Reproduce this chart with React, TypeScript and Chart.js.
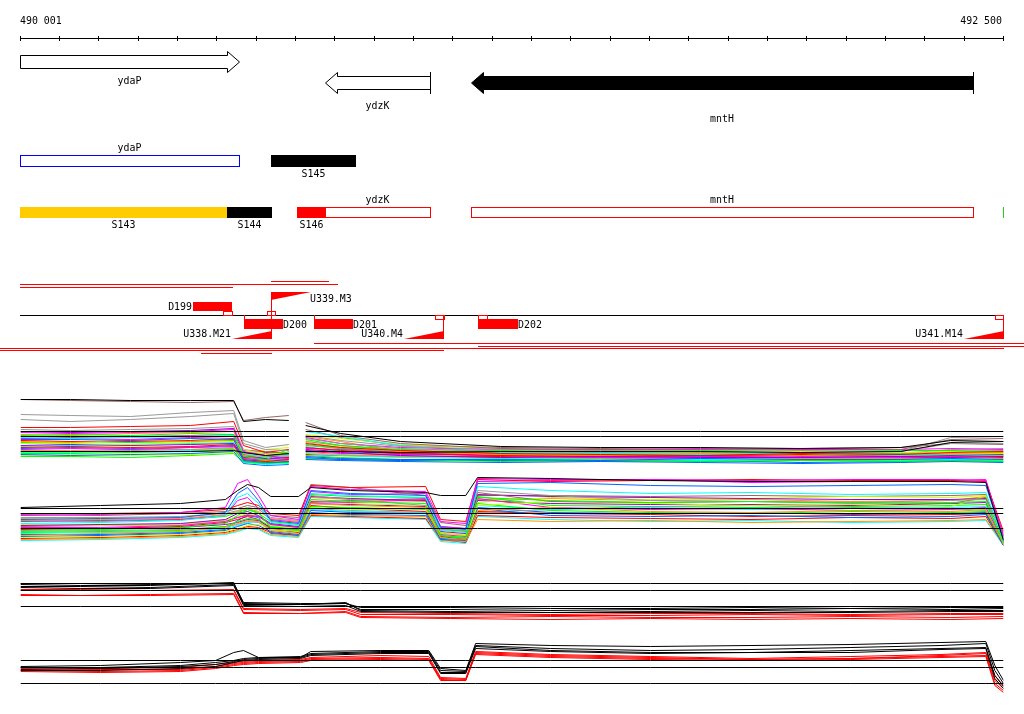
import React, { useEffect, useRef } from 'react';
import { Chart, registerables } from 'chart.js';

Chart.register(...registerables);

// ================= DATA =================
const REGION_START = 490001;
const REGION_END = 492500;
const TICK_STEP = 100;
const rulerLabels = ['490 001', '492 500'];

// genes
const geneNames = ['ydaP', 'ydzK', 'mntH'];
const geneStart = [490001, 490777, 491148];
const geneEnd = [490557, 491044, 492425];
const geneStrand = [1, -1, -1];

// annotation row 1
const row1Names = ['ydaP', 'S145'];
const row1Start = [490001, 490639];
const row1End = [490557, 490856];

// annotation row 2
const row2Names = ['S143', 'S144', 'S146', 'ydzK', 'mntH'];
const row2Start = [490001, 490527, 490706, 490706, 491148];
const row2End = [490527, 490642, 490779, 491044, 492425];
const row2Ticks = [492500];

// downshifts
const downNames = ['D199', 'D200', 'D201', 'D202'];
const downStart = [490441, 490571, 490749, 491166];
const downEnd = [490540, 490670, 490848, 491268];
const downAbove = [true, false, false, false];

// upshifts
const upNames = ['U339.M3', 'U338.M21', 'U340.M4', 'U341.M14'];
const upPos = [490639, 490639, 491077, 492500];
const upAbove = [true, false, false, false];
const UP_RAMP = 100;

// transcription units (red lines)
const tuStart = [490639, 490001, 490001, 490749, 491166, 489950, 489950, 490461];
const tuEnd = [490784, 490807, 490540, 492554, 492554, 492500, 491077, 490639];
const tuLane = [0, 1, 2, 3, 4, 5, 6, 7];

// ---- expression track 1 (gap between 490683 and 490726) ----
const t1X = [490001, 490128, 490281, 490433, 490543, 490568, 490624, 490683, 490703, 490726, 490815, 490967, 491222, 491476, 491730, 491985, 492239, 492366, 492500];
const t1Ref = [11.4, 10.9];
const t1Series = [
  [14.6, 14.6, 14.5, 14.5, 14.5, 12.4, 12.6, 12.5, null, 12.0, 11.2, 10.4, 9.9, 9.8, 9.8, 9.7, 9.8, 10.5, 10.4],
  [9.4, 9.4, 9.4, 9.4, 9.5, 9.3, 9.0, 9.2, null, 9.4, 9.4, 9.3, 9.4, 9.4, 9.4, 9.3, 9.4, 10.3, 10.4],
  [14.6, 14.5, 14.4, 14.3, 14.4, 12.5, 12.8, 13.0, null, 12.3, 11.0, 10.2, 9.7, 9.6, 9.6, 9.7, 9.6, 10.6, 10.7],
  [13.1, 13.0, 12.9, 13.3, 13.5, 10.5, 9.8, 10.1, null, 11.0, 10.5, 9.9, 9.6, 9.5, 9.6, 9.5, 9.4, 10.8, 10.9],
  [12.6, 12.4, 12.6, 12.9, 13.2, 10.2, 9.6, 9.5, null, 10.7, 10.2, 9.7, 9.4, 9.3, 9.4, 9.3, 9.4, 10.2, 10.2],
  [11.8, 11.8, 11.9, 12.0, 12.4, 10.0, 9.3, 9.6, null, 10.2, 9.8, 9.5, 9.2, 9.1, 9.0, 9.2, 9.1, 9.3, 9.4],
  [11.3, 11.2, 11.3, 11.4, 11.6, 9.4, 9.0, 8.7, null, 10.8, 10.2, 9.8, 9.6, 9.6, 9.7, 9.6, 9.6, 9.7, 9.6],
  [11.0, 11.1, 11.0, 11.2, 11.1, 8.9, 8.6, 9.4, null, 10.6, 10.0, 9.6, 9.5, 9.4, 9.5, 9.6, 9.5, 9.5, 9.4],
  [10.8, 10.7, 10.8, 10.9, 11.0, 9.2, 8.8, 9.0, null, 11.4, 10.9, 10.0, 9.3, 9.2, 9.1, 9.2, 9.0, 9.1, 9.0],
  [10.6, 10.6, 10.5, 10.7, 10.6, 8.5, 8.3, 8.4, null, 8.9, 8.7, 8.6, 8.6, 8.5, 8.7, 8.6, 8.6, 8.7, 8.6],
  [10.4, 10.3, 10.5, 10.4, 10.6, 9.0, 8.9, 8.9, null, 10.9, 10.4, 9.4, 9.1, 9.0, 9.2, 9.0, 9.1, 9.2, 9.3],
  [10.2, 10.2, 10.1, 10.3, 10.4, 9.6, 9.1, 9.3, null, 11.1, 10.7, 10.1, 9.7, 9.5, 9.5, 9.4, 9.3, 9.4, 9.3],
  [10.0, 10.1, 10.0, 10.1, 10.2, 8.8, 8.7, 8.8, null, 9.5, 9.3, 9.0, 8.8, 8.9, 8.8, 8.8, 8.9, 8.8, 8.9],
  [9.8, 9.9, 9.8, 9.9, 10.1, 8.6, 8.4, 8.6, null, 9.8, 9.5, 9.2, 9.0, 8.9, 9.0, 9.1, 8.9, 9.0, 9.1],
  [9.6, 9.7, 9.6, 9.8, 9.9, 9.1, 8.6, 8.9, null, 9.7, 9.6, 9.3, 9.0, 8.8, 8.7, 8.9, 8.8, 8.9, 9.0],
  [9.4, 9.4, 9.5, 9.6, 9.8, 9.3, 9.2, 9.1, null, 10.4, 10.0, 9.5, 9.3, 9.2, 9.3, 9.2, 9.2, 9.4, 9.5],
  [9.2, 9.2, 9.3, 9.4, 9.6, 8.4, 8.2, 8.3, null, 9.0, 8.8, 8.6, 8.4, 8.5, 8.4, 8.5, 8.4, 8.5, 8.4],
  [9.9, 10.0, 10.1, 10.2, 10.3, 8.3, 8.1, 8.2, null, 9.2, 9.0, 8.8, 8.7, 8.6, 8.5, 8.6, 8.5, 8.6, 8.5],
  [9.1, 9.0, 9.1, 9.2, 9.4, 8.2, 8.0, 8.1, null, 8.6, 8.5, 8.4, 8.3, 8.4, 8.3, 8.2, 8.3, 8.4, 8.3],
  [10.9, 10.8, 10.9, 11.0, 11.1, 9.5, 9.4, 9.2, null, 11.6, 10.8, 10.0, 9.8, 9.7, 9.6, 9.7, 9.8, 10.2, 10.1],
  [9.5, 9.5, 9.6, 9.6, 9.7, 8.5, 8.5, 8.5, null, 9.3, 9.1, 8.9, 8.8, 8.7, 8.8, 8.7, 8.7, 8.8, 8.7],
  [9.0, 9.1, 9.0, 9.1, 9.3, 9.0, 9.6, 9.8, null, 10.5, 9.9, 9.5, 9.4, 9.3, 9.2, 9.3, 9.2, 9.2, 9.2],
  [10.7, 10.7, 10.6, 10.8, 10.9, 8.7, 8.5, 8.6, null, 9.4, 9.2, 9.1, 9.0, 8.9, 8.9, 9.0, 9.0, 9.1, 9.0],
  [10.5, 10.4, 10.4, 10.5, 10.7, 9.0, 8.7, 8.8, null, 9.1, 9.0, 8.9, 8.9, 8.8, 8.9, 8.8, 8.7, 8.9, 8.8],
  [10.3, 10.4, 10.3, 10.4, 10.5, 8.9, 8.8, 9.6, null, 10.1, 9.7, 9.3, 9.1, 9.0, 9.1, 9.2, 9.1, 9.0, 9.1],
  [9.7, 9.8, 9.7, 9.8, 10.0, 8.4, 8.2, 8.4, null, 8.8, 8.6, 8.5, 8.5, 8.4, 8.5, 8.3, 8.4, 8.5, 8.4],
  [9.3, 9.3, 9.4, 9.5, 9.6, 8.7, 8.6, 8.7, null, 9.9, 9.4, 9.0, 8.8, 8.7, 8.6, 8.7, 8.7, 8.7, 8.6],
  [11.1, 11.0, 11.2, 11.3, 11.4, 9.1, 8.9, 9.0, null, 10.3, 9.8, 9.4, 9.2, 9.1, 9.0, 9.1, 9.0, 9.1, 9.2],
  [11.4, 11.3, 11.4, 11.5, 11.7, 9.3, 9.0, 9.1, null, 9.6, 9.4, 9.2, 9.0, 9.0, 8.9, 9.0, 8.9, 9.0, 8.9],
  [11.6, 11.5, 11.6, 11.7, 11.9, 9.6, 9.3, 9.3, null, 10.0, 9.7, 9.4, 9.3, 9.3, 9.2, 9.3, 9.2, 9.6, 9.7],
  [8.9, 8.9, 8.8, 9.0, 9.2, 8.3, 8.4, 8.3, null, 8.7, 8.6, 8.5, 8.6, 8.6, 8.4, 8.5, 8.5, 8.6, 8.5],
];

// ---- expression track 2 ----
const t2X = [490001, 490204, 490408, 490522, 490553, 490578, 490606, 490637, 490708, 490739, 490840, 491031, 491069, 491133, 491163, 491349, 491603, 491858, 492112, 492366, 492455, 492500];
const t2Ref = [11.7, 11.2, 9.7];
const t2Series = [
  [11.8, 12.0, 12.2, 12.6, 13.5, 14.1, 13.8, 12.9, 12.9, 13.8, 13.5, 13.3, 13.0, 13.0, 14.8, 14.7, 14.5, 14.4, 14.4, 14.4, 14.3, 8.5],
  [11.0, 11.1, 11.3, 11.8, 14.2, 14.6, 13.0, 11.0, 10.6, 13.9, 13.6, 13.4, 10.4, 10.2, 14.7, 14.6, 14.6, 14.5, 14.6, 14.6, 14.5, 9.0],
  [10.6, 10.7, 10.8, 11.3, 13.2, 13.8, 12.5, 10.5, 10.2, 13.5, 13.2, 13.0, 9.8, 9.6, 14.2, 14.3, 14.0, 13.9, 14.0, 14.1, 14.0, 8.6],
  [10.2, 10.3, 10.5, 11.0, 12.8, 13.2, 12.2, 10.3, 10.0, 13.2, 13.0, 12.8, 9.5, 9.3, 13.9, 13.5, 13.2, 13.3, 13.1, 13.2, 13.3, 8.4],
  [11.2, 11.2, 11.3, 11.6, 12.0, 12.3, 12.0, 11.2, 11.0, 14.0, 13.8, 13.9, 10.6, 10.4, 14.6, 14.4, 14.5, 14.6, 14.5, 14.5, 14.4, 9.4],
  [9.5, 9.6, 9.8, 10.2, 11.0, 11.6, 11.3, 9.8, 9.5, 12.6, 12.4, 12.2, 9.0, 8.8, 12.8, 12.5, 12.3, 12.4, 12.2, 12.3, 12.4, 8.3],
  [9.0, 9.2, 9.4, 9.8, 10.2, 10.5, 10.4, 9.5, 9.2, 12.2, 12.0, 11.8, 8.8, 8.6, 11.5, 11.8, 11.4, 11.3, 11.5, 11.4, 11.6, 8.2],
  [10.8, 10.8, 10.9, 11.2, 11.5, 11.8, 11.6, 10.8, 10.5, 13.0, 12.6, 12.0, 9.6, 9.5, 13.5, 13.0, 12.5, 12.4, 12.3, 12.5, 12.6, 8.8],
  [11.1, 11.0, 11.2, 11.4, 11.7, 12.0, 11.8, 11.0, 10.8, 14.1, 13.8, 13.0, 10.3, 10.0, 13.3, 12.4, 12.3, 12.4, 12.3, 12.2, 12.8, 9.2],
  [8.8, 8.9, 9.1, 9.4, 9.7, 10.0, 10.1, 9.6, 9.4, 11.8, 11.6, 11.7, 9.2, 9.0, 12.0, 12.4, 12.2, 12.0, 12.1, 11.9, 12.9, 8.1],
  [10.0, 10.1, 10.2, 10.6, 11.2, 11.4, 11.0, 10.2, 9.9, 12.9, 12.7, 12.5, 9.4, 9.2, 13.1, 12.9, 12.8, 12.7, 12.6, 12.6, 12.7, 8.5],
  [9.8, 9.8, 10.0, 10.4, 10.8, 11.0, 10.9, 10.1, 9.8, 12.4, 12.3, 12.6, 9.1, 8.9, 12.7, 11.8, 11.6, 11.7, 11.5, 11.6, 11.8, 8.4],
  [9.3, 9.4, 9.5, 9.9, 10.4, 10.7, 10.6, 9.9, 9.6, 11.9, 11.8, 11.6, 9.0, 8.7, 12.2, 11.5, 11.3, 11.2, 11.4, 11.3, 11.4, 8.2],
  [8.9, 9.0, 9.2, 9.5, 9.9, 10.2, 10.0, 9.4, 9.1, 11.5, 11.3, 11.2, 8.6, 8.5, 11.7, 11.0, 10.9, 11.0, 10.8, 10.9, 11.1, 8.0],
  [9.6, 9.7, 9.9, 10.3, 10.6, 10.9, 10.6, 9.7, 9.3, 12.0, 11.7, 11.4, 8.9, 8.6, 11.4, 11.2, 11.1, 10.9, 11.0, 11.1, 11.2, 8.3],
  [9.2, 9.3, 9.4, 9.7, 10.0, 10.3, 10.4, 9.6, 9.3, 11.6, 11.4, 11.3, 8.8, 8.7, 12.0, 11.6, 11.8, 11.6, 11.7, 11.8, 11.9, 8.4],
  [8.6, 8.7, 8.9, 9.2, 9.5, 9.8, 9.7, 9.1, 8.9, 11.1, 11.0, 10.9, 8.5, 8.4, 10.6, 10.4, 10.5, 10.3, 10.4, 10.5, 10.6, 8.1],
  [10.4, 10.5, 10.6, 11.0, 12.5, 12.8, 11.7, 10.6, 10.3, 13.4, 13.1, 13.2, 9.9, 9.7, 14.4, 14.5, 14.6, 14.3, 14.4, 14.5, 14.6, 8.9],
  [9.4, 9.5, 9.6, 9.9, 10.1, 10.4, 10.3, 9.7, 9.4, 11.7, 11.5, 11.3, 8.9, 8.8, 11.3, 11.6, 11.9, 12.0, 11.8, 11.7, 11.5, 8.3],
  [10.5, 10.4, 10.6, 10.9, 11.3, 11.6, 11.2, 10.4, 10.1, 13.1, 12.9, 12.8, 9.7, 9.4, 12.9, 12.0, 11.9, 11.8, 11.9, 12.0, 12.1, 8.6],
  [9.1, 9.1, 9.3, 9.6, 10.5, 11.0, 10.8, 9.2, 9.0, 11.3, 11.1, 11.0, 8.7, 8.6, 11.8, 11.3, 11.2, 11.3, 11.1, 11.2, 11.3, 8.2],
  [8.7, 8.8, 9.0, 9.3, 9.6, 9.9, 9.8, 9.3, 9.0, 11.0, 10.9, 10.7, 8.6, 8.3, 11.0, 10.8, 10.7, 10.6, 10.8, 10.7, 10.9, 8.0],
  [10.1, 10.0, 10.1, 10.5, 10.9, 11.2, 10.9, 10.0, 9.7, 12.5, 12.2, 12.0, 9.3, 9.1, 12.3, 12.8, 12.6, 12.7, 12.9, 12.8, 13.0, 8.7],
  [9.7, 9.7, 9.8, 10.1, 10.3, 10.6, 10.5, 9.8, 9.6, 12.2, 12.1, 11.9, 9.2, 9.0, 12.5, 12.2, 12.1, 12.1, 12.0, 12.2, 12.3, 8.5],
  [8.5, 8.6, 8.8, 9.1, 9.4, 9.7, 9.6, 9.0, 8.8, 10.9, 10.8, 10.6, 8.4, 8.2, 10.9, 10.6, 10.4, 10.5, 10.3, 10.4, 10.5, 8.0],
  [10.7, 10.6, 10.7, 11.1, 11.4, 11.7, 11.4, 10.7, 10.4, 12.8, 12.6, 12.4, 9.6, 9.4, 12.6, 12.7, 12.5, 12.6, 12.4, 12.5, 12.9, 8.8],
  [9.9, 10.0, 10.1, 10.5, 10.8, 11.1, 10.9, 10.1, 9.8, 12.3, 12.5, 12.7, 9.9, 9.7, 13.0, 13.0, 12.9, 13.0, 12.9, 13.0, 13.1, 8.6],
];

// ---- expression track 3 ----
const t3X = [490001, 490153, 490332, 490543, 490568, 490713, 490828, 490866, 491095, 491349, 491603, 491858, 492112, 492366, 492500];
const t3Ref = [12.2, 11.5, 9.9];
const t3Series = [
  [12.2, 12.2, 12.1, 12.2, 10.3, 10.2, 10.2, 9.8, 9.8, 9.7, 9.7, 9.8, 9.7, 9.8, 9.8],
  [12.1, 12.0, 12.0, 12.3, 10.2, 10.1, 10.2, 9.6, 9.6, 9.5, 9.6, 9.6, 9.7, 9.6, 9.7],
  [11.9, 11.9, 11.8, 12.1, 10.1, 10.1, 10.3, 9.5, 9.4, 9.3, 9.4, 9.5, 9.4, 9.5, 9.5],
  [11.8, 11.7, 11.7, 12.0, 10.0, 9.9, 10.0, 9.4, 9.3, 9.3, 9.3, 9.3, 9.3, 9.4, 9.4],
  [11.6, 11.6, 11.5, 11.6, 9.7, 9.6, 9.7, 9.3, 9.2, 9.1, 9.2, 9.2, 9.1, 9.2, 9.2],
  [11.5, 11.5, 11.5, 11.5, 9.6, 9.5, 9.6, 9.1, 9.1, 9.0, 9.0, 9.1, 9.0, 9.1, 9.1],
  [11.1, 11.0, 11.1, 11.2, 9.3, 9.2, 9.4, 8.9, 8.8, 8.9, 8.8, 8.8, 8.9, 8.8, 8.9],
  [11.0, 11.0, 11.0, 11.1, 9.2, 9.2, 9.3, 8.8, 8.7, 8.6, 8.7, 8.6, 8.7, 8.6, 8.7],
];

// ---- expression track 4 ----
const t4X = [490001, 490204, 490408, 490497, 490543, 490568, 490606, 490713, 490739, 490917, 491039, 491069, 491133, 491158, 491349, 491603, 491858, 492112, 492341, 492455, 492478, 492500];
const t4Ref = [11.5, 10.8, 9.2];
const t4Series = [
  [10.9, 11.0, 11.3, 11.5, 12.3, 12.5, 11.8, 11.8, 12.4, 12.5, 12.5, 10.7, 10.5, 13.2, 13.0, 12.9, 13.0, 13.1, 13.3, 13.4, 11.0, 9.5],
  [10.8, 10.8, 11.0, 11.3, 11.5, 11.7, 11.8, 11.9, 12.2, 12.4, 12.4, 10.5, 10.4, 13.0, 12.7, 12.5, 12.6, 12.8, 13.0, 13.2, 10.5, 9.2],
  [10.6, 10.7, 10.9, 11.1, 11.4, 11.6, 11.7, 11.8, 12.1, 12.3, 12.3, 10.3, 10.3, 12.9, 12.5, 12.3, 12.3, 12.5, 12.7, 12.8, 10.0, 8.9],
  [10.5, 10.5, 10.7, 10.9, 11.3, 11.5, 11.6, 11.7, 12.0, 12.2, 12.2, 10.2, 10.2, 12.7, 12.4, 12.2, 12.3, 12.3, 12.6, 12.7, 9.7, 8.7],
  [10.8, 10.7, 10.8, 11.1, 11.3, 11.4, 11.5, 11.6, 11.8, 12.0, 11.9, 9.8, 9.7, 12.4, 12.1, 11.9, 11.7, 11.9, 12.1, 12.3, 10.0, 9.0],
  [10.7, 10.6, 10.6, 10.9, 11.2, 11.3, 11.4, 11.5, 11.7, 11.8, 11.7, 9.7, 9.6, 12.3, 12.0, 11.8, 11.6, 11.7, 12.0, 12.2, 9.5, 8.7],
  [10.5, 10.4, 10.5, 10.8, 11.1, 11.2, 11.3, 11.4, 11.6, 11.7, 11.6, 9.6, 9.5, 12.2, 11.9, 11.7, 11.6, 11.7, 11.9, 12.0, 9.2, 8.5],
  [10.4, 10.3, 10.4, 10.7, 11.0, 11.1, 11.2, 11.3, 11.5, 11.6, 11.5, 9.5, 9.5, 12.1, 11.8, 11.6, 11.5, 11.6, 11.8, 11.9, 9.0, 8.3],
];

// ================= STYLE / LAYOUT =================
const W = 1024;
const H = 714;
const FONT = '11px "DejaVu Sans Mono", monospace';
const RED = '#ff0000';
const K = '#000000';
const P = {
  red: '#ff0000', mag: '#ff00ff', grn: '#00ff00', cyan: '#00ffff', blue: '#0066ff',
  orng: '#ff9900', ylgr: '#ccff00', gray: '#999999', brown: '#996666', purp: '#9900cc',
};
const t1Colors = [K, K, P.brown, P.gray, P.gray, P.red,
  P.mag, P.grn, P.cyan, P.blue, P.orng, P.ylgr, P.purp, P.red, P.mag, P.gray, P.grn, P.cyan, P.blue,
  P.brown, P.orng, P.ylgr, P.mag, P.red, P.grn, P.blue, P.cyan, P.orng, P.purp, P.gray, P.grn];
const t2Colors = [K,
  P.mag, P.blue, P.cyan, P.red, P.grn, P.orng, P.gray, P.brown, P.ylgr, P.purp, P.mag, P.grn, P.blue,
  P.red, P.cyan, P.orng, P.mag, P.gray, P.grn, P.blue, P.red, P.ylgr, P.purp, P.cyan, P.orng, P.brown];
const t34Colors = [K, K, K, K, RED, RED, RED, RED];

const featureStyle: Record<string, { fill?: string; stroke?: string }> = {
  ydaP: { stroke: '#0000ff' }, S145: { fill: K }, S143: { fill: '#ffcc00' }, S144: { fill: K },
  S146: { fill: RED }, ydzK: { stroke: RED }, mntH: { stroke: RED },
};
const filledGenes: Record<string, boolean> = { mntH: true };
const geneLabelY: Record<string, number> = { ydaP: 84, ydzK: 109, mntH: 122 };
const downMark: Record<string, string> = { D199: 'squareEnd', D200: 'stem', D201: 'stem', D202: 'squareStart' };
const laneY = [281, 284, 287, 343, 346, 348, 350, 353];

// track bands: pixel of value 8, 10 px per unit
function band(bottomPx: number) {
  const min = 8 - (H - bottomPx) / 10;
  return { type: 'linear', display: false, min, max: min + H / 10 };
}

function lineSets(xs: number[], series: (number | null)[][], colors: string[], axis: string) {
  return series.map((ys, i) => ({
    data: xs.map((x, j) => ({ x, y: ys[j] })),
    borderColor: colors[i % colors.length],
    borderWidth: 1,
    pointRadius: 0,
    tension: 0,
    spanGaps: false,
    fill: false,
    yAxisID: axis,
  }));
}

function refSets(xs: number[], pattern: (number | null)[], refs: number[], axis: string) {
  return refs.map((v) => ({
    data: xs.map((x, j) => ({ x, y: pattern[j] === null ? null : v })),
    borderColor: K,
    borderWidth: 1,
    pointRadius: 0,
    tension: 0,
    spanGaps: false,
    fill: false,
    yAxisID: axis,
  }));
}

const crispPlugin = {
  id: 'crisp',
  beforeDatasetsDraw(chart: any) { chart.ctx.save(); chart.ctx.translate(0.5, 0.5); },
  afterDatasetsDraw(chart: any) { chart.ctx.restore(); },
};

const genomePlugin = {
  id: 'genome',
  afterDraw(chart: any) {
    const ctx: CanvasRenderingContext2D = chart.ctx;
    const xs = chart.scales.x;
    const px = (bp: number) => Math.round(xs.getPixelForValue(bp));
    const hl = (x1: number, x2: number, y: number, c: string) => { ctx.fillStyle = c; ctx.fillRect(x1, y, x2 - x1 + 1, 1); };
    const vl = (x: number, y1: number, y2: number, c: string) => { ctx.fillStyle = c; ctx.fillRect(x, y1, 1, y2 - y1 + 1); };
    const box = (x1: number, x2: number, y1: number, y2: number, c: string) => {
      hl(x1, x2, y1, c); hl(x1, x2, y2, c); vl(x1, y1, y2, c); vl(x2, y1, y2, c);
    };
    const label = (s: string, x: number, y: number, align: CanvasTextAlign) => {
      ctx.save();
      ctx.translate(x, y);
      ctx.scale(0.9, 1);
      ctx.font = FONT;
      ctx.textAlign = align;
      ctx.textBaseline = 'alphabetic';
      ctx.fillStyle = K;
      ctx.fillText(s, 0, 0);
      ctx.restore();
    };
    ctx.save();
    const r0 = px(REGION_START);
    const r1 = px(REGION_END);

    // ruler
    label(rulerLabels[0], r0, 24, 'left');
    label(rulerLabels[1], r1 - 1, 24, 'right');
    hl(r0, r1, 38, K);
    for (let t = Math.floor(REGION_START / TICK_STEP) * TICK_STEP; t <= REGION_END; t += TICK_STEP) {
      vl(px(Math.max(REGION_START, Math.min(REGION_END, t))), 36, 40, K);
    }

    // genes
    geneNames.forEach((name, i) => {
      const x1 = px(geneStart[i]);
      const x2 = px(geneEnd[i]);
      const top = geneStrand[i] > 0 ? 51 : 72;
      const ht = top + 0.5, hb = top + 21.5, bt = top + 4.5, bb = top + 17.5, cy = top + 11;
      const head = 12;
      ctx.beginPath();
      if (geneStrand[i] > 0) {
        ctx.moveTo(x1 + 0.5, bt); ctx.lineTo(x2 - head + 0.5, bt); ctx.lineTo(x2 - head + 0.5, ht);
        ctx.lineTo(x2 + 0.5, cy); ctx.lineTo(x2 - head + 0.5, hb); ctx.lineTo(x2 - head + 0.5, bb); ctx.lineTo(x1 + 0.5, bb);
      } else {
        ctx.moveTo(x2 + 0.5, bt); ctx.lineTo(x1 + head + 0.5, bt); ctx.lineTo(x1 + head + 0.5, ht);
        ctx.lineTo(x1 + 0.5, cy); ctx.lineTo(x1 + head + 0.5, hb); ctx.lineTo(x1 + head + 0.5, bb); ctx.lineTo(x2 + 0.5, bb);
      }
      ctx.closePath();
      ctx.fillStyle = filledGenes[name] ? K : '#ffffff';
      ctx.fill();
      ctx.strokeStyle = K;
      ctx.lineWidth = 1;
      ctx.stroke();
      if (geneStrand[i] < 0 && geneEnd[i] < REGION_END) vl(x2, top, top + 21, K);
      if (geneStrand[i] > 0 && geneStart[i] > REGION_START) vl(x1, top, top + 21, K);
      label(name, (x1 + x2) / 2, geneLabelY[name], 'center');
    });

    const geneCenter = (name: string, fallback: number) => {
      const gi = geneNames.indexOf(name);
      return gi >= 0 ? (px(geneStart[gi]) + px(geneEnd[gi])) / 2 : fallback;
    };

    const drawFeature = (name: string, s: number, e: number, top: number, h: number) => {
      const x1 = px(s), x2 = px(e);
      const st = featureStyle[name] || { fill: K };
      if (st.fill) {
        ctx.fillStyle = st.fill;
        ctx.fillRect(x1, top, x2 - x1, h);
        label(name, (x1 + x2) / 2, top + h + 10, 'center');
      } else {
        box(x1, x2, top, top + h - 1, st.stroke || K);
        label(name, geneCenter(name, (x1 + x2) / 2), top - 4, 'center');
      }
    };
    // row 1
    row1Names.forEach((n, i) => drawFeature(n, row1Start[i], row1End[i], 155, 12));
    // row 2
    row2Names.forEach((n, i) => drawFeature(n, row2Start[i], row2End[i], 207, 11));
    row2Ticks.forEach((bp) => vl(Math.min(px(bp), r1), 207, 217, '#22cc22'));

    // transcription-unit lines
    tuStart.forEach((s, i) => hl(Math.max(0, px(s)), Math.min(W - 1, px(tuEnd[i])), laneY[tuLane[i]], RED));

    // baseline
    hl(r0, r1, 315, K);

    // downshifts
    downNames.forEach((n, i) => {
      const x1 = px(downStart[i]), x2 = px(downEnd[i]);
      ctx.fillStyle = RED;
      if (downAbove[i]) {
        ctx.fillRect(x1, 302, x2 - x1, 9);
        label(n, x1 - 1, 310, 'right');
      } else {
        ctx.fillRect(x1, 319, x2 - x1, 10);
        label(n, x2, 328, 'left');
      }
      const m = downMark[n];
      const y1 = downAbove[i] ? 311 : 315;
      if (m === 'squareEnd') box(x2 - 9, x2, y1, y1 + 4, RED);
      if (m === 'squareStart') box(x1, x1 + 9, y1, y1 + 4, RED);
      if (m === 'stem') vl(x1, 315, 319, RED);
    });

    // upshifts
    const seen: Record<number, boolean> = {};
    upNames.forEach((n, i) => {
      const x = px(upPos[i]);
      const w = x - px(upPos[i] - UP_RAMP);
      ctx.fillStyle = RED;
      ctx.beginPath();
      if (upAbove[i]) {
        vl(x, 292, 315, RED);
        ctx.fillStyle = RED;
        ctx.beginPath();
        ctx.moveTo(x, 292); ctx.lineTo(x + w + 1, 292); ctx.lineTo(x, 300); ctx.closePath(); ctx.fill();
        label(n, x + w, 302, 'left');
        if (!seen[upPos[i]]) box(x - 4, x + 4, 311, 315, RED);
      } else {
        vl(x, 315, 338, RED);
        ctx.fillStyle = RED;
        ctx.beginPath();
        ctx.moveTo(x - w, 339); ctx.lineTo(x + 1, 339); ctx.lineTo(x + 1, 331); ctx.closePath(); ctx.fill();
        label(n, x - w - 1, 337, 'right');
        if (!seen[upPos[i]]) box(Math.min(x - 8, r1 - 5), Math.min(x + 1, r1), 315, 319, RED);
      }
      seen[upPos[i]] = true;
    });
    ctx.restore();
  },
};

export default function App() {
  const ref = useRef<HTMLCanvasElement | null>(null);
  useEffect(() => {
    document.body.style.margin = '0';
    const canvas = ref.current;
    if (!canvas) return;
    const datasets: any[] = [
      ...refSets(t1X, t1Series[0], t1Ref, 'y1'),
      ...lineSets(t1X, t1Series, t1Colors, 'y1'),
      ...refSets(t2X, t2Series[0], t2Ref, 'y2'),
      ...lineSets(t2X, t2Series, t2Colors, 'y2'),
      ...refSets(t3X, t3Series[0], t3Ref, 'y3'),
      ...lineSets(t3X, t3Series, t34Colors, 'y3'),
      ...refSets(t4X, t4Series[0], t4Ref, 'y4'),
      ...lineSets(t4X, t4Series, t34Colors, 'y4'),
    ];
    const chart = new Chart(canvas, {
      type: 'line',
      data: { datasets },
      options: {
        responsive: false,
        maintainAspectRatio: false,
        animation: false,
        events: [],
        layout: { padding: { left: 20, right: W - 1003, top: 0, bottom: 0 } },
        scales: {
          x: { type: 'linear', min: REGION_START, max: REGION_END, display: false },
          y1: band(465) as any,
          y2: band(545) as any,
          y3: band(625) as any,
          y4: band(695) as any,
        },
        plugins: { legend: { display: false }, tooltip: { enabled: false } },
      },
      plugins: [crispPlugin, genomePlugin],
    } as any);
    return () => chart.destroy();
  }, []);
  return (
    <div style={{ position: 'absolute', left: 0, top: 0, width: W, height: H, background: '#fff' }}>
      <canvas ref={ref} width={W} height={H} style={{ display: 'block', width: W, height: H }} />
    </div>
  );
}
